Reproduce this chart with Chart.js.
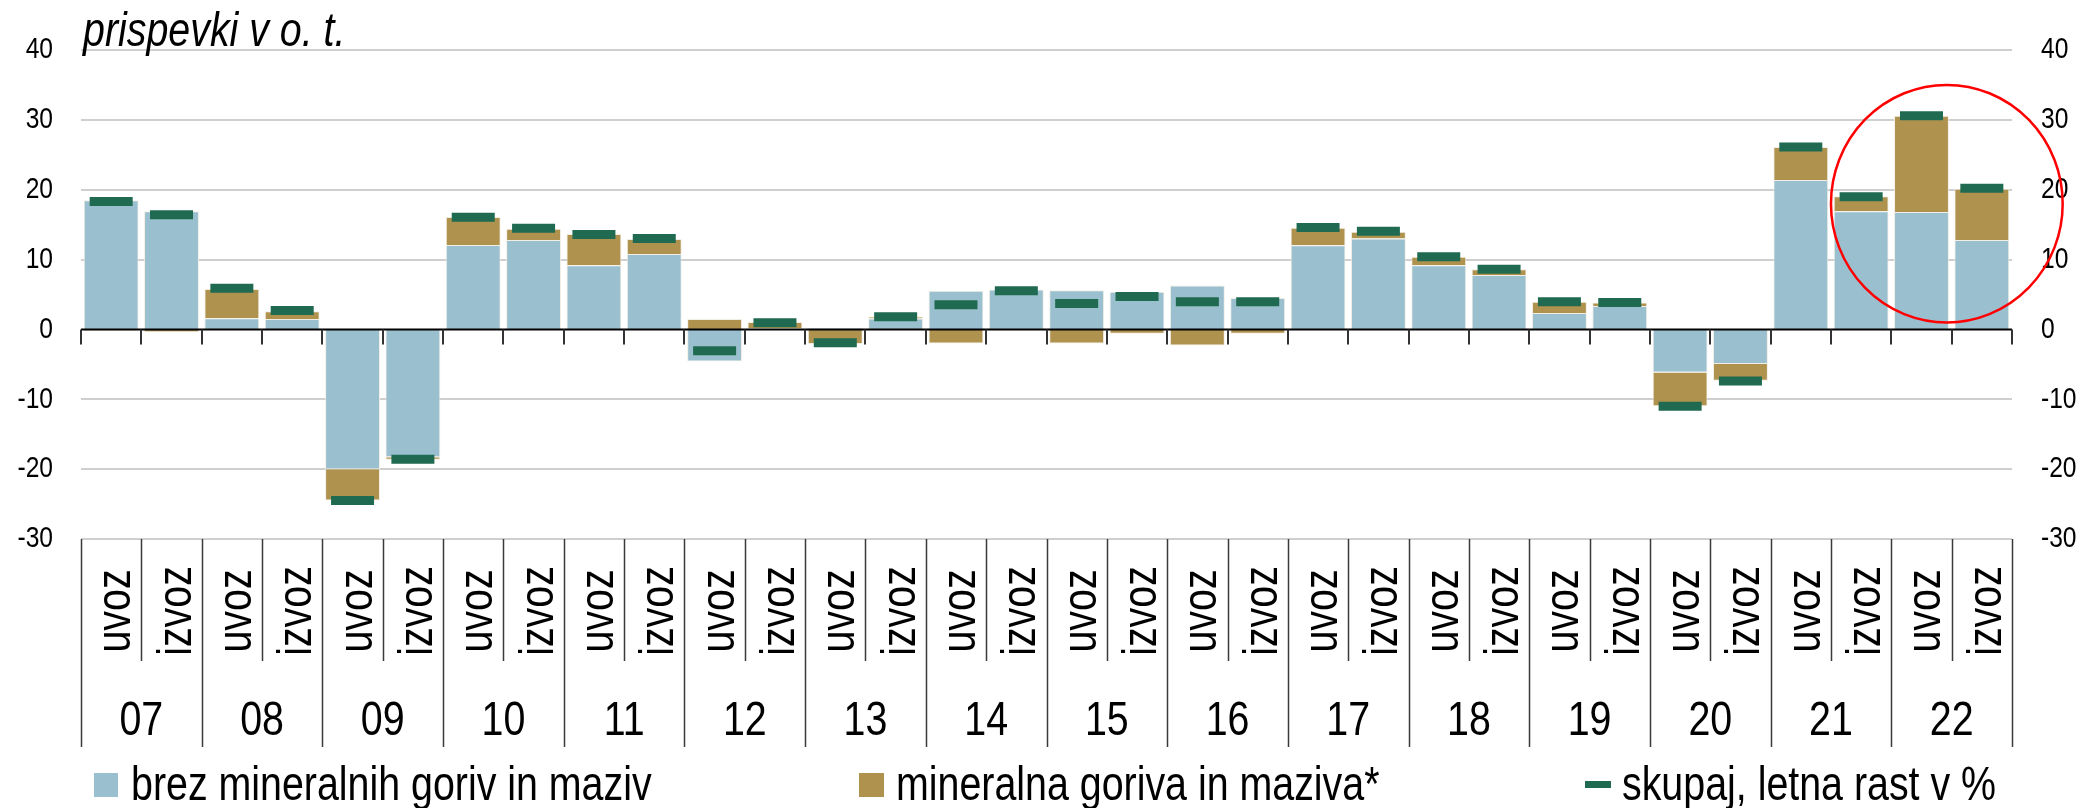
<!DOCTYPE html>
<html>
<head>
<meta charset="utf-8">
<script src="https://cdn.jsdelivr.net/npm/chart.js@4/dist/chart.umd.min.js"></script>
<style>
  html, body { margin: 0; padding: 0; background: #fff; }
  #wrap { width: 2082px; height: 808px; }
</style>
</head>
<body>
<div id="wrap"><canvas id="chart" width="2082" height="808"></canvas></div>
<script>
(function () {
    "use strict";

    // data
    const years = ["07", "08", "09", "10", "11", "12", "13", "14", "15", "16", "17", "18", "19", "20", "21", "22"];
    const flows = ["uvoz", "izvoz"];
    const seriesNames = ["brez mineralnih goriv in maziv", "mineralna goriva in maziva*", "skupaj, letna rast v %"];
    const brezGoriv = [18.5, 16.9, 1.6, 1.5, -20.0, -18.3, 12.1, 12.8, 9.2, 10.8, -4.6, 0.15, 0.2, 1.55, 5.55, 5.7,
        5.6, 5.4, 6.3, 4.5, 12.05, 13.0, 9.2, 7.8, 2.35, 3.35, -6.15, -4.95, 21.4, 16.9, 16.8, 12.8];
    const goriva = [-0.2, -0.4, 4.2, 1.1, -4.5, -0.35, 4.0, 1.6, 4.45, 2.15, 1.5, 0.9, -2.1, 0.3, -2.0, -0.15,
        -2.0, -0.62, -2.3, -0.62, 2.5, 1.0, 1.2, 0.8, 1.6, 0.52, -4.85, -2.4, 4.7, 2.15, 13.8, 7.35];
    const skupaj = [18.3, 16.4, 5.9, 2.7, -24.5, -18.6, 16.05, 14.5, 13.6, 13.0, -3.05, 0.96, -1.9, 1.8, 3.55, 5.55,
        3.7, 4.7, 3.97, 3.97, 14.6, 14.05, 10.4, 8.6, 3.97, 3.85, -11.0, -7.4, 26.1, 19.0, 30.6, 20.2];
    const yTicks = [40, 30, 20, 10, 0, -10, -20, -30];
    const title = "prispevki v o. t.";
    // marked area around 2022 (category index, value)
    const highlight = { xCenter: 30.42, yCenter: 18.0, xRadius: 1.92, yRadius: 17.0 };

    const labels = years.flatMap(y => flows.map(f => y + " " + f));

    // colours & fonts
    const BLUE = "#9ABFCE";
    const BROWN = "#B0924F";
    const GREEN = "#1F6A50";
    const FONT = "'Liberation Sans', Arial, sans-serif";
    const NARROW = 0.82; // Arial Narrow look

    // narrow text helper
    function text(ctx, str, x, y, size, align, opts) {
        opts = opts || {};
        ctx.save();
        ctx.translate(x, y);
        if (opts.rotate) ctx.rotate(opts.rotate);
        ctx.scale(NARROW, 1);
        ctx.font = (opts.italic ? "italic " : "") + size + "px " + FONT;
        ctx.textAlign = align;
        ctx.textBaseline = opts.baseline || "alphabetic";
        ctx.fillStyle = "#000";
        ctx.fillText(str, 0, 0);
        ctx.restore();
    }

    const decorations = {
        id: "decorations",
        beforeDatasetsDraw(chart) {
            const { ctx, chartArea, scales } = chart;
            const y = scales.y;
            ctx.save();
            ctx.strokeStyle = "#cfcfcf";
            ctx.lineWidth = 2;
            ctx.beginPath();
            yTicks.forEach(v => {
                if (v === 0) return;
                const py = Math.round(y.getPixelForValue(v));
                ctx.moveTo(chartArea.left, py);
                ctx.lineTo(chartArea.right, py);
            });
            ctx.stroke();
            ctx.restore();
        },
        afterDatasetsDraw(chart) {
            const { ctx, chartArea, scales } = chart;
            const y0 = scales.y.getPixelForValue(0);
            const step = (chartArea.right - chartArea.left) / labels.length;
            ctx.save();
            ctx.strokeStyle = "#000";
            ctx.lineWidth = 2;
            ctx.beginPath();
            ctx.moveTo(chartArea.left, y0);
            ctx.lineTo(chartArea.right, y0);
            ctx.stroke();
            ctx.strokeStyle = "#333";
            ctx.beginPath();
            for (let i = 0; i <= labels.length; i++) {
                const px = Math.round(chartArea.left + i * step);
                ctx.moveTo(px, y0);
                ctx.lineTo(px, y0 + 15);
            }
            ctx.stroke();
            ctx.restore();
        },
        afterDraw(chart) {
            const { ctx, chartArea, scales } = chart;
            const x = scales.x, y = scales.y;
            const bottom = chartArea.bottom;
            const step = (chartArea.right - chartArea.left) / labels.length;
            ctx.save();

            // value axis labels, both sides
            yTicks.forEach(v => {
                const py = y.getPixelForValue(v);
                text(ctx, String(v), chartArea.left - 28, py, 30, "right", { baseline: "middle" });
                text(ctx, String(v), chartArea.right + 29, py, 30, "left", { baseline: "middle" });
            });

            // separators under the plot
            ctx.strokeStyle = "#3a3a3a";
            ctx.lineWidth = 1.5;
            ctx.beginPath();
            for (let i = 0; i <= labels.length; i++) {
                const px = Math.round(chartArea.left + i * step) + 0.5;
                ctx.moveTo(px, bottom);
                ctx.lineTo(px, i % 2 === 0 ? bottom + 208 : bottom + 122);
            }
            ctx.stroke();

            // uvoz / izvoz, rotated
            labels.forEach((lab, i) => {
                const cx = x.getPixelForValue(i);
                text(ctx, flows[i % 2], cx + 19, bottom + 72, 48, "center", { rotate: -Math.PI / 2 });
            });

            // years
            years.forEach((yr, j) => {
                const cx = (x.getPixelForValue(j * 2) + x.getPixelForValue(j * 2 + 1)) / 2;
                text(ctx, yr, cx, bottom + 196, 48, "center");
            });

            // title
            text(ctx, title, chartArea.left + 2, 46, 48, "left", { italic: true });

            // legend
            const legendY = 800;
            ctx.fillStyle = BLUE;
            ctx.fillRect(94, 773, 24, 24);
            ctx.fillStyle = BROWN;
            ctx.fillRect(859, 773, 25, 24);
            ctx.fillStyle = GREEN;
            ctx.fillRect(1585, 781, 26, 7);
            text(ctx, seriesNames[0], 131, legendY, 48, "left");
            text(ctx, seriesNames[1], 896, legendY, 48, "left");
            text(ctx, seriesNames[2], 1622, legendY, 48, "left");

            // red ellipse
            const ex = chartArea.left + (highlight.xCenter + 0.5) * step;
            const ey = y.getPixelForValue(highlight.yCenter);
            const rx = highlight.xRadius * step;
            const ry = Math.abs(y.getPixelForValue(highlight.yCenter + highlight.yRadius) - ey);
            ctx.strokeStyle = "#FF0000";
            ctx.lineWidth = 2.5;
            ctx.beginPath();
            ctx.ellipse(ex, ey, rx, ry, 0, 0, Math.PI * 2);
            ctx.stroke();

            ctx.restore();
        }
    };

    new Chart(document.getElementById("chart").getContext("2d"), {
        type: "bar",
        data: {
            labels: labels,
            datasets: [
                {
                    type: "line",
                    label: seriesNames[2],
                    data: skupaj,
                    yAxisID: "y2",
                    showLine: false,
                    pointStyle: "line",
                    pointRadius: 21.5,
                    pointHoverRadius: 21.5,
                    pointBorderWidth: 9,
                    borderColor: GREEN,
                    backgroundColor: GREEN,
                    order: 0,
                },
                {
                    label: seriesNames[0],
                    data: brezGoriv,
                    backgroundColor: BLUE,
                    borderColor: "rgba(240,236,226,0.9)",
                    borderWidth: 1,
                    stack: "s",
                    barPercentage: 0.91,
                    categoryPercentage: 1,
                    order: 1,
                },
                {
                    label: seriesNames[1],
                    data: goriva,
                    backgroundColor: BROWN,
                    borderColor: "rgba(240,236,226,0.9)",
                    borderWidth: 1,
                    stack: "s",
                    barPercentage: 0.91,
                    categoryPercentage: 1,
                    order: 2,
                },
            ],
        },
        options: {
            responsive: false,
            animation: false,
            maintainAspectRatio: false,
            layout: { padding: { top: 50, bottom: 269, left: 81, right: 70 } },
            plugins: { legend: { display: false }, tooltip: { enabled: false }, title: { display: false } },
            scales: {
                x: { display: false, stacked: true },
                y: { display: false, stacked: true, min: -30, max: 40 },
                y2: { display: false, min: -30, max: 40 },
            },
        },
        plugins: [decorations],
    });
})();
</script>
</body>
</html>
